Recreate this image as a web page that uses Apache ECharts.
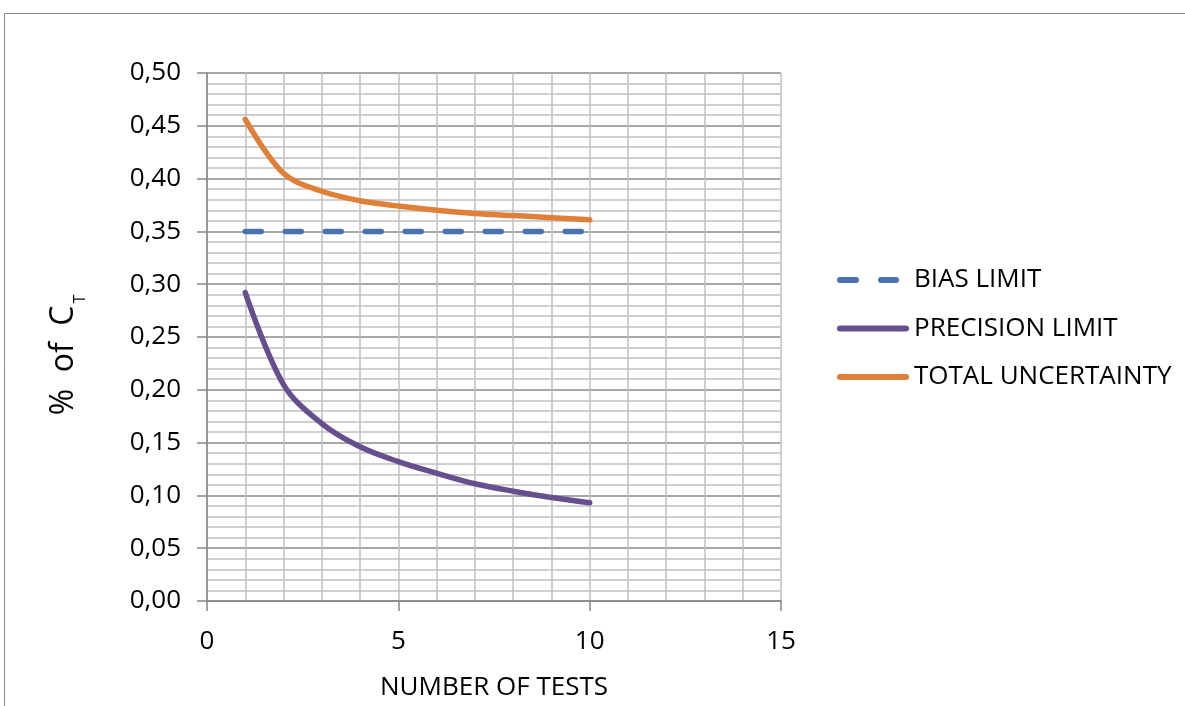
<!DOCTYPE html>
<html>
<head>
<meta charset="utf-8">
<script src="https://cdn.jsdelivr.net/npm/echarts@6/dist/echarts.min.js"></script>
<style>
  html, body { margin: 0; padding: 0; background: #fff; }
  #chart { width: 1185px; height: 706px; }
</style>
</head>
<body>
<div id="chart"></div>
<script>
// Number of tests (x) and limits as % of C_T (y)
const tests = [1, 2, 3, 4, 5, 6, 7, 8, 9, 10];
const biasLimit = [0.35, 0.35, 0.35, 0.35, 0.35, 0.35, 0.35, 0.35, 0.35, 0.35];
const precisionLimit = [0.292, 0.205, 0.168, 0.146, 0.132, 0.121, 0.111, 0.104, 0.098, 0.093];
const totalUncertainty = [0.456, 0.405, 0.388, 0.379, 0.374, 0.370, 0.367, 0.365, 0.363, 0.361];
const seriesNames = ['BIAS LIMIT', 'PRECISION LIMIT', 'TOTAL UNCERTAINTY'];
const seriesColors = ['#4873AE', '#674F8F', '#E07F38'];

const pairs = ys => tests.map((x, i) => [x, ys[i]]);
const FONT = '"Open Sans", "Noto Sans", sans-serif';

// legend keys: a dashed key for the bias line, solid rounded bars for the others
const dashedKey = 'path://M72,3M3,0H19A3,3 0 0 1 19,6H3A3,3 0 0 1 3,0Z M44,0H59A3,3 0 0 1 59,6H44A3,3 0 0 1 44,0Z';
const solidKey = 'path://M3,0H69A3,3 0 0 1 69,6H3A3,3 0 0 1 3,0Z';

const chart = echarts.init(document.getElementById('chart'), null, { renderer: 'canvas' });

chart.setOption({
  animation: false,
  backgroundColor: '#ffffff',
  textStyle: { fontFamily: FONT, color: '#000' },
  graphic: [
    {
      type: 'rect',
      shape: { x: 4.5, y: 13.5, width: 1300, height: 800 },
      style: { fill: 'none', stroke: '#8a8a8a', lineWidth: 1 },
      silent: true
    },
    {
      type: 'text',
      x: 64, y: 355,
      rotation: Math.PI / 2,
      style: {
        text: '{a|%  of  C}{s|T}',
        align: 'center',
        verticalAlign: 'middle',
        rich: {
          a: { fontFamily: FONT, fontSize: 32, fill: '#000' },
          s: { fontFamily: FONT, fontSize: 16, fill: '#000', verticalAlign: 'bottom', padding: [0, 0, -8, 2] }
        }
      },
      silent: true
    }
  ],
  grid: { left: 207, top: 73, right: 404, bottom: 105, containLabel: false, outerBoundsMode: 'none' },
  legend: {
    orient: 'vertical',
    left: 832,
    top: 262,
    itemWidth: 72,
    itemHeight: 6,
    itemGap: 22.5,
    textStyle: { fontFamily: FONT, fontSize: 26, color: '#000' },
    data: [
      { name: seriesNames[0], icon: dashedKey },
      { name: seriesNames[1], icon: solidKey },
      { name: seriesNames[2], icon: solidKey }
    ]
  },
  xAxis: {
    type: 'value',
    min: 0, max: 15, interval: 5,
    name: 'NUMBER OF TESTS',
    nameLocation: 'middle',
    nameGap: 74,
    nameTextStyle: { fontFamily: FONT, fontSize: 26, color: '#000' },
    axisLine: { show: true, onZero: false, lineStyle: { color: '#868686', width: 1.5 } },
    axisTick: { show: true, length: 10, lineStyle: { color: '#868686', width: 1.5 } },
    axisLabel: { margin: 28, fontSize: 26, color: '#000', fontFamily: FONT },
    splitLine: { show: true, lineStyle: { color: '#c0c0c0', width: 1.5 } },
    minorTick: { show: false, splitNumber: 5 },
    minorSplitLine: { show: true, lineStyle: { color: '#c0c0c0', width: 1.5 } }
  },
  yAxis: {
    type: 'value',
    min: 0, max: 0.5, interval: 0.05,
    axisLine: { show: true, lineStyle: { color: '#868686', width: 1.5 } },
    axisTick: { show: true, length: 10, lineStyle: { color: '#868686', width: 1.5 } },
    axisLabel: {
      margin: 26, fontSize: 26, color: '#000', fontFamily: FONT,
      formatter: v => v.toFixed(2).replace('.', ',')
    },
    splitLine: { show: true, lineStyle: { color: '#8a8a8a', width: 1.5 } },
    minorTick: { show: false, splitNumber: 5 },
    minorSplitLine: { show: true, lineStyle: { color: '#c0c0c0', width: 1.5 } }
  },
  series: [
    {
      name: seriesNames[0], type: 'line', data: pairs(biasLimit),
      symbol: 'none', smooth: false, color: seriesColors[0],
      lineStyle: { color: seriesColors[0], width: 5.5, type: [16, 24], cap: 'round' }
    },
    {
      name: seriesNames[1], type: 'line', data: pairs(precisionLimit),
      symbol: 'none', smooth: 0.35, color: seriesColors[1],
      lineStyle: { color: seriesColors[1], width: 5.5, cap: 'round' }
    },
    {
      name: seriesNames[2], type: 'line', data: pairs(totalUncertainty),
      symbol: 'none', smooth: 0.35, color: seriesColors[2],
      lineStyle: { color: seriesColors[2], width: 5.5, cap: 'round' }
    }
  ]
});
</script>
</body>
</html>
